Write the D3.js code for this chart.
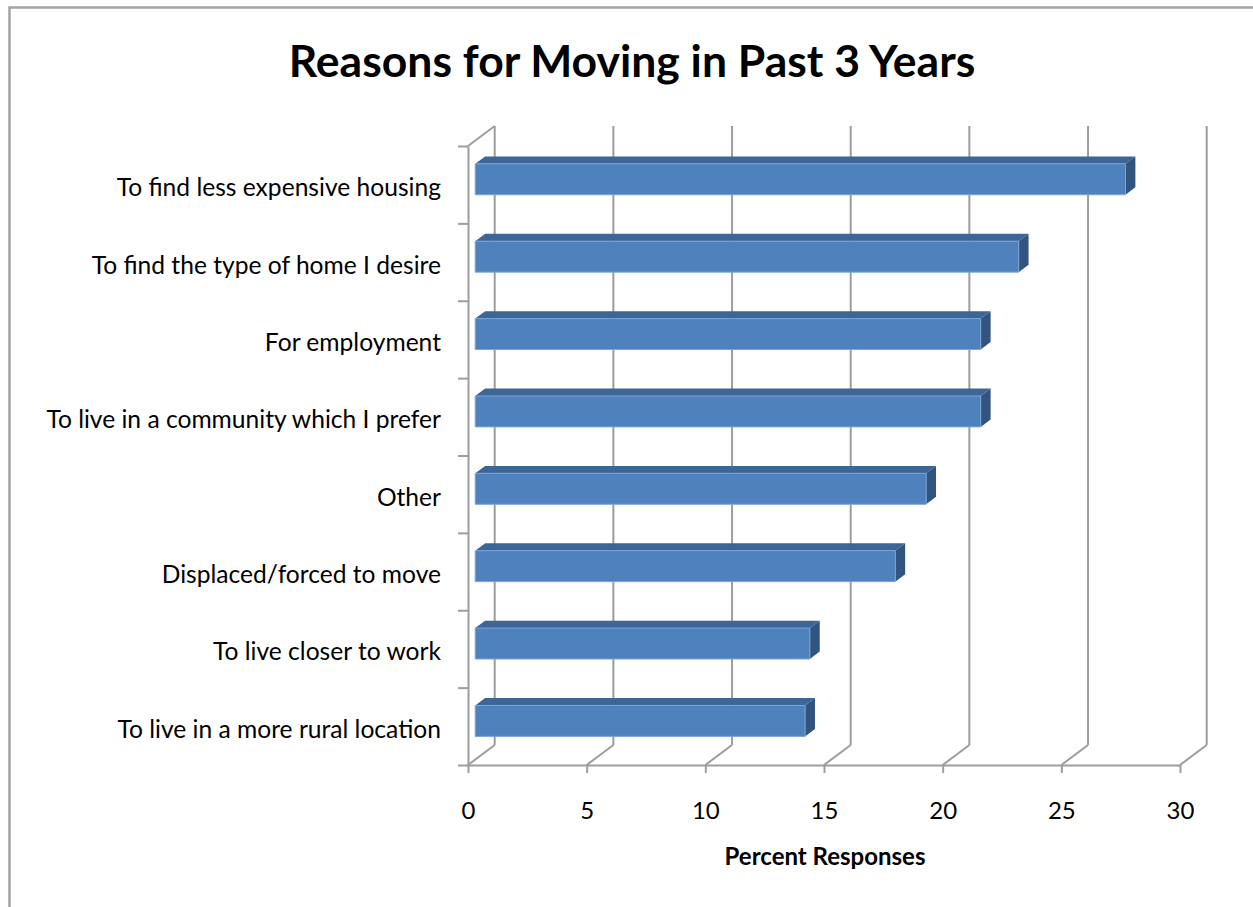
<!DOCTYPE html>
<html>
<head>
<meta charset="utf-8">
<script src="https://cdn.jsdelivr.net/npm/d3@7"></script>
<style>
  html, body { margin: 0; padding: 0; background: #fff; }
  svg { display: block; }
  text { font-family: Lato, "Open Sans", sans-serif; fill: #000; }
</style>
</head>
<body>
<svg id="chart" width="1253" height="907"></svg>
<script>
// Survey responses, listed top to bottom
const categories = [
  "To find less expensive housing",
  "To find the type of home I desire",
  "For employment",
  "To live in a community which I prefer",
  "Other",
  "Displaced/forced to move",
  "To live closer to work",
  "To live in a more rural location"
];
const percentValues = [27.4, 22.9, 21.3, 21.3, 19.0, 17.7, 14.1, 13.9];
const xTickValues = [0, 5, 10, 15, 20, 25, 30];
const titleText = "Reasons for Moving in Past 3 Years";
const xAxisTitle = "Percent Responses";

const svg = d3.select("#chart");

// Front plane of the 3-D box
const plot = { left: 468, right: 1180, top: 146, bottom: 765 };
// Oblique depth vector for the full box depth
const depth = { dx: 26.7, dy: -20 };
// Depth range occupied by the bars (fraction of box depth)
const barFront = 0.27, barBack = 0.64;

const x = d3.scaleLinear().domain([0, 30]).range([plot.left, plot.right]);
const y = d3.scaleBand().domain(categories)
  .range([plot.top, plot.bottom])
  .paddingInner(0.6).paddingOuter(0.3);
// Category boundaries for the left-wall tick marks
const yEdge = d3.scaleLinear().domain([0, categories.length]).range([plot.top, plot.bottom]);

// project (value, screen-y on the front plane, depth fraction) to screen
const P = (v, yy, d) => [x(v) + d * depth.dx, yy + d * depth.dy];
const line = d3.line();

// Outer chart-area frame
svg.append("path")
  .attr("d", "M9.5,907V7.5H1253")
  .attr("fill", "none").attr("stroke", "#a4a4a4").attr("stroke-width", 2.5);

// Title
svg.append("text")
  .attr("x", 632).attr("y", 77)
  .attr("text-anchor", "middle")
  .style("font-size", "44.5px").style("font-weight", "bold")
  .text(titleText);

const gridColor = "#9d9d9d";
const grid = svg.append("g").attr("fill", "none").attr("stroke", gridColor).attr("stroke-width", 2);

// Back-wall gridlines and their floor diagonals
xTickValues.forEach(v => {
  grid.append("path").attr("d", line([P(v, plot.top, 1), P(v, plot.bottom, 1)]));
  grid.append("path").attr("d", line([P(v, plot.bottom, 0), P(v, plot.bottom, 1)]));
});
// Left wall top edge
grid.append("path").attr("d", line([P(0, plot.top, 0), P(0, plot.top, 1)]));

// Bottom value axis (front floor edge)
const xAxis = svg.append("g")
  .attr("transform", `translate(0,${plot.bottom})`)
  .call(d3.axisBottom(x).tickValues(xTickValues).tickSize(8).tickSizeOuter(0));
xAxis.select(".domain").attr("stroke", gridColor).attr("stroke-width", 2);
xAxis.selectAll(".tick line").attr("stroke", gridColor).attr("stroke-width", 2);
xAxis.selectAll(".tick text")
  .attr("y", 54).attr("dy", 0)
  .style("font-size", "24px").style("font-family", "Lato, sans-serif").attr("fill", "#000");

// Left category axis (front edge of the left wall)
const yAxis = svg.append("g")
  .attr("transform", `translate(${plot.left},0)`)
  .call(d3.axisLeft(yEdge).ticks(categories.length).tickSize(10).tickSizeOuter(0).tickFormat(""));
yAxis.select(".domain").attr("stroke", gridColor).attr("stroke-width", 2);
yAxis.selectAll(".tick line").attr("stroke", gridColor).attr("stroke-width", 2);

// Category labels
svg.append("g").selectAll("text")
  .data(categories)
  .join("text")
  .attr("x", 441)
  .attr("y", d => y(d) + y.bandwidth() / 2 + 11.5)
  .attr("text-anchor", "end")
  .style("font-size", "24.6px")
  .text(d => d);

// 3-D bars
const data = categories.map((c, i) => ({ cat: c, value: percentValues[i] }));
const bars = svg.append("g").selectAll("g").data(data).join("g");

// top face
bars.append("path")
  .attr("d", d => {
    const t = y(d.cat);
    return line([P(0, t, barFront), P(d.value, t, barFront), P(d.value, t, barBack), P(0, t, barBack)]) + "Z";
  })
  .attr("fill", "#3d6697");

// right end face
bars.append("path")
  .attr("d", d => {
    const t = y(d.cat), b = t + y.bandwidth();
    return line([P(d.value, t, barFront), P(d.value, t, barBack), P(d.value, b, barBack), P(d.value, b, barFront)]) + "Z";
  })
  .attr("fill", "#31557f");

// front face
bars.append("path")
  .attr("d", d => {
    const t = y(d.cat), b = t + y.bandwidth();
    return line([P(0, t, barFront), P(d.value, t, barFront), P(d.value, b, barFront), P(0, b, barFront)]) + "Z";
  })
  .attr("fill", "#4f81bd")
  .attr("stroke", "#7aa3d6").attr("stroke-width", 1);

// Axis title
svg.append("text")
  .attr("x", 825).attr("y", 865)
  .attr("text-anchor", "middle")
  .style("font-size", "24px").style("font-weight", "bold")
  .text(xAxisTitle);
</script>
</body>
</html>
